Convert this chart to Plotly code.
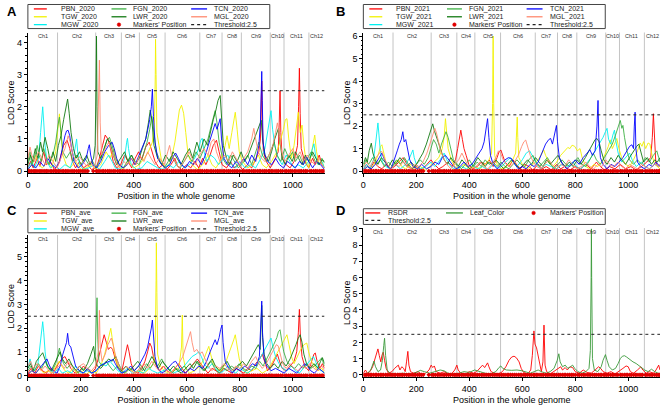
import plotly.graph_objects as go

W, H = 661, 407
X_MAX = 1120
FONT = "Liberation Sans, Arial, sans-serif"

# ---------------- data ----------------
CHR_NAMES = ["Ch1", "Ch2", "Ch3", "Ch4", "Ch5", "Ch6", "Ch7", "Ch8", "Ch9", "Ch10", "Ch11", "Ch12"]
CHR_STARTS = [0, 112, 256, 353, 421, 518, 649, 733, 806, 915, 967, 1061]
X_TICKS = [0, 200, 400, 600, 800, 1000]
THRESHOLD = 2.5

MARKERS = [2, 7, 13, 20, 26, 31, 38, 45, 50, 57, 64, 70, 76, 84, 90, 97, 104, 109,
           116, 121, 129, 135, 142, 148, 155, 163, 170, 176, 184, 191, 197, 205, 212, 219, 226,
           247, 259, 265, 272, 280, 286, 293, 301, 307, 314, 322, 329, 338, 345, 350,
           357, 363, 371, 377, 384, 392, 398, 405, 412, 418,
           425, 431, 438, 446, 452, 459, 466, 473, 479, 487, 494, 501, 508, 514,
           522, 528, 535, 543, 549, 556, 563, 570, 577, 585, 592, 598, 606, 612, 619, 627, 634, 642, 646,
           653, 659, 667, 674, 680, 688, 694, 701, 709, 716, 722, 729,
           737, 743, 751, 758, 764, 772, 779, 786, 792, 800,
           810, 816, 824, 831, 837, 845, 852, 858, 866, 873, 879, 887, 894, 900, 908, 912,
           919, 925, 933, 940, 946, 954, 961,
           971, 977, 985, 992, 998, 1006, 1012, 1020, 1027, 1033, 1041, 1048, 1054,
           1065, 1071, 1079, 1086, 1092, 1100, 1107, 1113, 1118]

# ---- Panel A (2020) ----
PBN_2020 = [(0,0.1),(10,0.3),(20,0.1),(35,0.4),(45,0.15),(60,0.6),(70,0.2),(85,0.3),(100,0.05),(115,0.2),(125,0.5),(135,0.8),(148,0.96),(158,0.7),(168,0.3),(180,0.1),(195,0.3),(210,0.1),(225,0.2),(240,0.05),(258,0.1),(270,0.4),(282,0.8),(292,1.12),(302,1.0),(312,0.7),(322,0.3),(335,0.1),(350,0.2),(365,0.5),(378,0.3),(392,0.1),(405,0.4),(418,0.6),(430,0.35),(445,0.75),(458,0.9),(468,0.6),(480,0.3),(495,0.1),(510,0.2),(525,0.05),(540,0.2),(555,0.4),(565,0.15),(580,0.05),(600,0.2),(615,0.1),(630,0.3),(645,0.1),(660,0.4),(672,0.2),(688,0.5),(700,0.8),(712,0.96),(722,0.6),(733,0.2),(750,0.1),(765,0.3),(778,0.1),(795,0.2),(810,0.05),(830,0.2),(845,0.1),(860,0.4),(872,0.6),(878,1.0),(881,2.0),(883,2.8),(885,1.5),(889,0.6),(900,0.3),(915,0.1),(930,0.3),(945,0.6),(949,1.5),(952,2.5),(955,1.2),(960,0.4),(975,0.2),(990,0.1),(1005,0.3),(1018,0.8),(1022,2.0),(1025,3.2),(1028,1.8),(1032,0.7),(1045,0.3),(1060,0.1),(1075,0.4),(1085,0.2),(1100,0.5),(1110,0.2),(1120,0.1)]
TGW_2020 = [(0,0.05),(15,0.2),(30,0.5),(40,0.2),(55,0.1),(75,0.3),(90,0.1),(105,0.6),(113,1.3),(119,1.78),(125,1.1),(132,0.5),(145,0.2),(160,0.1),(180,0.3),(200,0.05),(220,0.1),(240,0.2),(256,0.05),(275,0.2),(295,0.6),(310,0.4),(325,0.7),(340,0.2),(360,0.05),(380,0.3),(400,0.1),(420,0.2),(440,0.4),(455,0.6),(470,0.9),(478,1.5),(481,3.0),(482,4.1),(484,3.0),(487,1.2),(495,0.8),(505,0.3),(520,0.1),(540,0.3),(555,0.9),(565,1.5),(572,1.9),(580,2.05),(588,1.8),(596,1.2),(605,0.5),(620,0.2),(640,0.05),(660,0.2),(680,0.5),(695,0.2),(710,0.1),(725,0.3),(740,0.6),(752,1.1),(760,0.7),(770,1.2),(778,1.6),(783,1.83),(790,1.3),(798,0.6),(810,0.3),(830,0.1),(850,0.2),(870,0.5),(885,0.2),(900,0.1),(920,0.3),(940,0.6),(955,1.0),(965,1.3),(972,1.6),(978,1.63),(985,1.0),(995,0.4),(1005,0.8),(1015,1.5),(1021,1.83),(1028,1.2),(1035,1.43),(1042,0.8),(1050,0.3),(1060,0.1),(1070,0.5),(1078,0.9),(1083,1.12),(1090,0.6),(1100,0.2),(1110,0.3),(1120,0.1)]
MGW_2020 = [(0,0.1),(15,0.3),(25,0.1),(40,0.4),(48,1.2),(53,1.9),(56,2.0),(60,1.5),(65,0.8),(72,0.3),(85,0.1),(100,0.2),(120,0.05),(140,0.2),(160,0.1),(172,0.4),(180,0.9),(184,1.0),(188,0.6),(195,0.2),(210,0.05),(230,0.1),(250,0.2),(270,0.05),(290,0.3),(305,0.5),(318,0.3),(330,0.1),(350,0.05),(365,0.4),(373,0.9),(376,1.02),(380,0.7),(390,0.2),(410,0.05),(430,0.1),(450,0.3),(470,0.2),(490,0.1),(510,0.05),(530,0.2),(550,0.1),(570,0.3),(590,0.1),(610,0.2),(630,0.4),(645,0.7),(652,0.95),(658,1.02),(665,0.6),(675,0.3),(690,0.5),(705,0.4),(720,0.2),(740,0.4),(755,0.5),(768,0.2),(785,0.1),(800,0.3),(820,0.1),(840,0.2),(860,0.1),(880,0.4),(895,0.7),(905,1.2),(912,1.6),(918,1.88),(924,1.3),(932,0.8),(945,0.4),(960,0.2),(975,0.5),(990,0.3),(1005,0.1),(1020,0.2),(1040,0.1),(1060,0.3),(1072,0.6),(1080,0.85),(1086,0.5),(1095,0.2),(1110,0.3),(1120,0.1)]
FGN_2020 = [(0,0.3),(8,0.6),(15,0.2),(25,0.4),(35,0.8),(42,0.5),(50,0.3),(60,0.7),(70,0.4),(80,0.2),(95,0.5),(105,0.9),(113,1.4),(119,1.68),(125,1.2),(132,0.6),(145,0.4),(160,0.6),(170,0.3),(185,0.5),(200,0.2),(215,0.4),(230,0.2),(245,0.3),(256,0.1),(270,0.3),(285,0.6),(298,0.95),(308,1.05),(318,0.8),(330,0.4),(345,0.2),(360,0.1),(375,0.3),(390,0.5),(405,0.3),(420,0.2),(435,0.5),(450,0.9),(460,1.3),(468,1.7),(476,1.2),(485,0.6),(500,0.3),(515,0.1),(530,0.3),(545,0.5),(560,0.2),(575,0.1),(590,0.3),(605,0.5),(620,0.3),(635,0.6),(650,0.4),(665,0.7),(680,1.0),(692,1.4),(700,1.7),(707,1.88),(714,1.5),(722,0.9),(735,0.4),(750,0.2),(765,0.5),(780,0.3),(795,0.1),(815,0.3),(830,0.5),(845,0.2),(860,0.6),(872,0.9),(885,0.5),(900,0.3),(915,0.6),(930,0.9),(940,0.5),(955,0.3),(970,0.7),(985,0.4),(1000,0.6),(1010,0.3),(1025,0.5),(1040,0.2),(1055,0.4),(1070,0.6),(1085,0.3),(1100,0.2),(1110,0.4),(1120,0.25)]
LWR_2020 = [(0,0.2),(10,0.5),(18,0.3),(28,0.7),(38,0.4),(48,0.9),(55,0.6),(65,1.05),(75,0.7),(85,0.3),(95,0.6),(105,0.3),(115,0.8),(125,1.1),(135,1.6),(143,2.0),(150,2.24),(156,1.8),(163,1.2),(172,0.7),(182,0.4),(195,0.6),(208,0.3),(222,0.5),(235,0.2),(248,0.4),(254,0.8),(257,2.5),(259,4.2),(261,2.0),(264,0.6),(275,0.4),(290,0.8),(300,1.0),(310,0.9),(322,0.5),(335,0.2),(350,0.4),(365,0.6),(378,0.3),(392,0.5),(405,0.2),(420,0.4),(432,0.7),(445,1.0),(455,1.5),(462,1.9),(468,1.6),(476,0.8),(490,0.4),(505,0.2),(520,0.5),(535,0.3),(548,0.6),(562,0.4),(578,0.2),(595,0.5),(610,0.7),(622,0.4),(638,0.9),(650,0.6),(665,1.0),(678,0.8),(690,1.3),(700,1.6),(710,1.9),(718,2.2),(726,2.35),(731,1.6),(738,0.8),(750,0.4),(762,0.2),(775,0.5),(790,0.3),(805,0.6),(818,0.3),(832,0.5),(845,0.8),(858,1.1),(868,1.3),(876,1.5),(881,1.58),(886,1.0),(895,0.5),(908,0.3),(920,0.6),(932,1.0),(940,1.2),(946,1.33),(952,0.9),(960,0.4),(972,0.2),(985,0.5),(998,0.3),(1010,0.6),(1022,0.4),(1035,0.2),(1048,0.5),(1060,0.3),(1075,0.6),(1088,0.4),(1100,0.2),(1110,0.35),(1120,0.3)]
TCN_2020 = [(0,0.05),(15,0.2),(30,0.1),(45,0.3),(60,0.15),(75,0.4),(90,0.2),(105,0.1),(120,0.3),(132,0.8),(140,1.1),(146,1.25),(152,1.27),(158,1.1),(165,0.7),(175,0.3),(190,0.1),(205,0.2),(220,0.4),(228,0.7),(232,0.82),(237,0.5),(245,0.2),(260,0.1),(275,0.3),(290,0.6),(305,0.8),(318,0.9),(326,0.7),(335,0.4),(345,0.2),(360,0.1),(375,0.2),(390,0.4),(405,0.2),(420,0.5),(435,0.8),(445,1.0),(452,1.27),(460,1.6),(466,2.0),(470,2.55),(474,1.7),(480,0.9),(490,0.4),(505,0.2),(520,0.1),(535,0.2),(548,0.45),(558,0.56),(568,0.4),(580,0.2),(595,0.1),(610,0.3),(625,0.2),(640,0.4),(655,0.2),(670,0.5),(685,0.9),(697,1.2),(707,1.48),(714,1.3),(720,1.5),(726,1.63),(731,1.0),(740,0.4),(755,0.2),(770,0.1),(785,0.3),(800,0.2),(815,0.4),(830,0.2),(845,0.5),(860,0.3),(872,0.8),(878,1.5),(881,2.5),(883,3.1),(885,2.2),(888,0.9),(895,0.5),(905,0.3),(920,0.2),(935,0.4),(950,0.2),(965,0.1),(980,0.3),(995,0.2),(1010,0.1),(1025,0.3),(1040,0.2),(1050,0.45),(1060,0.3),(1075,0.1),(1090,0.3),(1105,0.2),(1120,0.05)]
MGL_2020 = [(0,0.4),(8,0.75),(15,0.5),(25,0.3),(40,0.6),(52,0.4),(65,0.2),(80,0.5),(95,0.3),(110,0.1),(125,0.4),(140,0.7),(152,1.1),(160,0.9),(170,0.5),(182,0.3),(195,0.45),(210,0.3),(222,0.15),(235,0.3),(250,0.1),(262,0.5),(267,2.0),(270,3.45),(273,1.5),(278,0.5),(292,0.7),(305,0.9),(318,0.6),(332,0.3),(345,0.1),(362,0.3),(375,0.2),(392,0.4),(408,0.2),(422,0.5),(438,0.3),(452,0.6),(465,0.4),(480,0.2),(498,0.4),(515,0.2),(528,0.6),(535,0.8),(542,0.5),(555,0.3),(570,0.1),(590,0.3),(608,0.6),(620,0.4),(632,0.2),(648,0.5),(665,0.7),(680,0.5),(692,0.9),(702,1.0),(712,0.6),(725,0.3),(742,0.5),(758,0.3),(772,0.6),(786,0.4),(800,0.2),(815,0.4),(830,0.6),(845,1.0),(853,1.33),(860,1.0),(870,0.6),(882,0.4),(895,0.3),(910,0.5),(925,0.8),(935,1.2),(942,1.5),(950,1.1),(958,0.6),(970,0.3),(985,0.5),(1000,0.7),(1012,0.4),(1028,0.6),(1040,0.3),(1055,0.5),(1070,0.3),(1085,0.2),(1100,0.4),(1110,0.2),(1120,0.1)]

# ---- Panel B (2021) ----
PBN_2021 = [(0,0.1),(12,0.3),(25,0.1),(40,0.4),(55,0.2),(70,0.1),(85,0.3),(100,0.1),(118,0.2),(135,0.4),(150,0.6),(165,0.3),(180,0.1),(200,0.2),(220,0.05),(240,0.3),(255,0.5),(268,0.3),(285,0.1),(300,0.2),(320,0.4),(335,0.2),(348,0.5),(356,1.0),(362,1.5),(368,1.82),(374,1.4),(380,1.0),(388,0.7),(398,0.3),(412,0.1),(430,0.2),(445,0.4),(460,0.3),(475,0.5),(490,0.2),(505,0.6),(512,0.85),(519,0.94),(526,0.7),(535,0.4),(550,0.2),(565,0.5),(578,0.3),(592,0.1),(610,0.3),(625,0.2),(640,0.05),(660,0.3),(675,0.1),(690,0.2),(710,0.05),(730,0.3),(745,0.1),(760,0.2),(780,0.05),(800,0.2),(820,0.1),(840,0.3),(860,0.1),(880,0.4),(895,0.2),(910,0.05),(930,0.2),(950,0.1),(970,0.3),(990,0.1),(1010,0.2),(1030,0.05),(1050,0.2),(1070,0.4),(1085,0.6),(1091,1.5),(1095,2.55),(1099,1.2),(1104,0.4),(1112,0.2),(1120,0.3)]
TGW_2021 = [(0,0.05),(15,0.2),(30,0.1),(45,0.4),(58,0.8),(65,1.1),(70,1.17),(76,0.8),(85,0.4),(100,0.1),(118,0.3),(132,0.5),(145,0.2),(160,0.1),(180,0.3),(195,0.1),(215,0.2),(235,0.05),(250,0.2),(268,0.4),(285,0.6),(298,1.0),(305,1.5),(310,2.33),(314,1.6),(320,1.0),(332,0.5),(345,0.2),(360,0.1),(380,0.3),(400,0.1),(420,0.2),(440,0.1),(460,0.3),(475,0.5),(484,0.8),(488,3.0),(490,6.0),(492,3.0),(496,0.7),(505,0.3),(520,0.1),(540,0.2),(560,0.4),(575,0.8),(579,1.8),(581,2.4),(583,1.5),(587,0.6),(600,0.3),(620,0.1),(640,0.3),(660,0.5),(675,0.8),(681,0.94),(688,0.7),(700,0.4),(715,0.2),(730,0.4),(745,0.7),(760,0.9),(772,1.05),(780,1.0),(788,1.15),(798,1.1),(808,0.9),(818,1.0),(826,0.6),(840,0.2),(855,0.1),(870,0.3),(885,0.2),(900,0.4),(915,0.8),(925,1.1),(932,1.39),(940,1.0),(948,1.2),(957,1.45),(965,1.0),(975,0.6),(990,0.3),(1005,0.2),(1020,0.5),(1035,0.9),(1045,1.25),(1052,1.1),(1058,1.31),(1066,1.0),(1075,1.25),(1082,1.2),(1090,0.7),(1100,0.3),(1110,0.2),(1120,0.1)]
MGW_2021 = [(0,0.1),(12,0.3),(25,0.1),(38,0.5),(46,1.2),(51,1.9),(55,2.14),(59,1.6),(64,0.9),(72,0.4),(85,0.2),(100,0.1),(120,0.3),(140,0.1),(160,0.3),(175,0.6),(182,0.85),(187,0.94),(192,0.6),(200,0.3),(215,0.1),(235,0.2),(255,0.4),(270,0.2),(290,0.5),(305,0.8),(315,0.5),(330,0.2),(350,0.05),(370,0.2),(390,0.1),(410,0.3),(430,0.1),(450,0.2),(470,0.05),(490,0.3),(510,0.1),(530,0.3),(545,0.5),(555,0.6),(565,0.4),(580,0.2),(600,0.5),(615,0.8),(628,0.9),(640,0.6),(655,0.3),(670,0.1),(690,0.3),(710,0.2),(730,0.1),(750,0.3),(770,0.2),(790,0.4),(805,0.2),(820,0.1),(840,0.3),(860,0.6),(875,0.9),(890,1.2),(905,1.5),(914,1.75),(920,1.9),(926,1.4),(934,1.2),(942,1.6),(948,1.82),(954,1.3),(962,0.8),(975,0.4),(990,0.6),(1005,0.8),(1015,0.5),(1030,0.2),(1050,0.4),(1065,0.2),(1080,0.1),(1100,0.3),(1120,0.2)]
FGN_2021 = [(0,0.2),(10,0.5),(20,0.3),(35,0.6),(50,0.3),(65,0.5),(80,0.2),(95,0.4),(110,0.2),(125,0.5),(140,0.3),(155,0.6),(170,0.3),(185,0.1),(200,0.3),(215,0.5),(230,0.3),(245,0.6),(255,1.0),(265,1.4),(275,1.2),(285,0.8),(295,1.2),(303,1.5),(312,1.75),(320,1.5),(330,1.0),(340,0.5),(355,0.3),(370,0.1),(385,0.3),(400,0.5),(415,0.2),(430,0.4),(445,0.2),(460,0.5),(475,0.3),(490,0.4),(505,0.2),(520,0.4),(535,0.2),(550,0.1),(565,0.3),(580,0.5),(595,0.3),(610,0.2),(625,0.5),(640,0.7),(652,0.4),(665,0.2),(680,0.4),(695,0.6),(708,0.3),(720,0.1),(735,0.3),(750,0.5),(765,0.3),(780,0.2),(795,0.4),(810,0.6),(825,0.3),(840,0.2),(855,0.5),(868,0.8),(880,0.5),(895,0.3),(910,0.6),(925,0.9),(940,1.2),(952,1.6),(962,2.0),(970,2.25),(976,1.9),(980,2.03),(986,1.5),(995,0.9),(1005,0.5),(1020,0.3),(1035,0.5),(1050,0.3),(1065,0.6),(1080,0.4),(1095,0.7),(1108,0.9),(1115,0.6),(1120,0.4)]
LWR_2021 = [(0,0.3),(8,0.6),(15,0.4),(22,0.9),(30,1.24),(36,0.8),(45,0.5),(55,0.3),(68,0.6),(80,0.4),(95,0.2),(110,0.5),(122,0.3),(138,0.6),(150,0.4),(165,0.2),(180,0.4),(195,0.2),(210,0.5),(225,0.8),(238,1.2),(248,1.6),(256,1.9),(262,2.1),(268,1.8),(276,1.5),(285,1.2),(295,0.8),(305,0.5),(318,0.3),(330,0.6),(342,0.4),(358,0.2),(372,0.5),(388,0.3),(402,0.1),(418,0.3),(432,0.6),(446,0.4),(460,0.2),(472,0.4),(485,0.3),(500,0.5),(515,0.3),(530,0.1),(545,0.3),(560,0.5),(575,0.3),(590,0.1),(605,0.3),(620,0.5),(635,0.3),(650,0.6),(663,0.4),(678,0.2),(692,0.5),(706,0.3),(720,0.5),(735,0.7),(748,0.4),(762,0.2),(778,0.4),(792,0.2),(808,0.5),(822,0.3),(838,0.6),(852,0.9),(865,1.2),(875,1.4),(882,1.45),(890,1.3),(898,0.9),(908,0.5),(920,0.3),(935,0.6),(948,0.4),(962,0.7),(975,0.5),(990,0.3),(1005,0.6),(1020,0.9),(1032,1.1),(1040,1.2),(1048,0.8),(1058,0.4),(1072,0.6),(1088,0.3),(1100,0.5),(1110,0.4),(1120,0.6)]
TCN_2021 = [(0,0.05),(15,0.2),(30,0.1),(45,0.3),(60,0.6),(70,0.8),(80,0.5),(92,0.2),(105,0.1),(118,0.5),(128,0.9),(136,1.2),(143,1.4),(149,1.75),(154,1.3),(160,1.4),(167,1.0),(175,0.5),(188,0.2),(205,0.1),(220,0.3),(238,0.1),(255,0.2),(270,0.4),(285,0.3),(298,0.6),(310,0.7),(322,0.5),(335,0.3),(350,0.1),(365,0.2),(380,0.4),(395,0.2),(410,0.3),(425,0.6),(438,0.8),(448,1.0),(456,1.3),(462,1.8),(469,2.33),(474,1.5),(480,0.7),(490,0.3),(505,0.1),(520,0.3),(535,0.5),(548,0.6),(560,0.55),(572,0.3),(585,0.1),(600,0.2),(615,0.1),(630,0.3),(645,0.2),(660,0.4),(675,0.8),(688,1.2),(700,1.4),(707,1.45),(714,1.2),(720,1.5),(726,1.9),(729,2.03),(733,1.3),(740,0.6),(752,0.3),(768,0.1),(785,0.3),(800,0.5),(815,0.3),(830,0.6),(845,0.8),(855,0.95),(865,0.7),(875,0.9),(882,2.0),(886,3.14),(889,1.5),(895,0.6),(905,0.3),(920,0.1),(935,0.3),(950,0.2),(965,0.4),(980,0.6),(995,0.9),(1005,1.1),(1014,1.17),(1020,1.0),(1023,2.0),(1026,2.62),(1029,1.0),(1035,0.4),(1048,0.2),(1062,0.1),(1078,0.3),(1092,0.2),(1105,0.4),(1120,0.2)]
MGL_2021 = [(0,0.2),(12,0.4),(25,0.2),(40,0.5),(55,0.7),(64,0.85),(70,0.87),(78,0.6),(90,0.3),(105,0.1),(120,0.3),(135,0.2),(150,0.4),(165,0.2),(180,0.1),(195,0.3),(210,0.2),(225,0.4),(240,0.8),(252,1.2),(262,1.6),(270,1.9),(276,1.7),(284,1.3),(292,0.9),(302,0.6),(315,0.3),(330,0.1),(345,0.3),(360,0.5),(372,0.8),(380,0.6),(392,0.3),(408,0.1),(425,0.2),(440,0.4),(455,0.2),(470,0.1),(485,0.3),(500,0.6),(510,0.9),(518,0.8),(528,0.5),(540,0.3),(555,0.2),(570,0.4),(585,0.7),(598,1.1),(606,1.3),(613,1.38),(620,1.1),(630,0.7),(642,0.4),(655,0.2),(670,0.1),(685,0.3),(700,0.5),(712,0.3),(728,0.1),(745,0.3),(760,0.2),(775,0.5),(790,0.3),(805,0.1),(822,0.2),(840,0.4),(855,0.2),(870,0.1),(885,0.3),(900,0.2),(915,0.5),(930,0.3),(945,0.2),(960,0.4),(975,0.2),(990,0.1),(1005,0.3),(1020,0.2),(1035,0.1),(1050,0.3),(1065,0.2),(1080,0.1),(1100,0.3),(1120,0.2)]

# ---- Panel C (average) ----
PBN_ave = [(0,0.1),(12,0.3),(25,0.1),(40,0.4),(55,0.2),(70,0.1),(85,0.3),(100,0.2),(115,0.5),(128,0.7),(140,0.8),(150,0.6),(162,0.3),(178,0.1),(195,0.2),(210,0.4),(225,0.2),(240,0.1),(255,0.3),(268,0.8),(278,1.3),(288,1.72),(296,1.4),(304,1.1),(312,1.2),(320,1.1),(330,0.7),(342,0.3),(355,0.2),(365,0.8),(372,1.2),(376,1.3),(382,1.0),(390,0.5),(400,0.2),(415,0.1),(430,0.3),(442,0.6),(452,1.0),(460,1.37),(467,1.2),(474,0.8),(485,0.4),(498,0.2),(512,0.4),(525,0.2),(540,0.1),(555,0.3),(570,0.5),(582,0.3),(595,0.1),(610,0.3),(625,0.5),(640,0.7),(652,0.5),(665,0.3),(680,0.1),(695,0.3),(710,0.2),(725,0.1),(740,0.3),(755,0.2),(770,0.1),(785,0.3),(800,0.2),(815,0.1),(830,0.3),(845,0.2),(860,0.5),(875,0.7),(885,0.9),(895,0.5),(905,0.2),(920,0.4),(932,0.7),(942,0.9),(950,0.6),(960,0.3),(975,0.2),(990,0.4),(1005,0.6),(1015,1.0),(1021,1.8),(1025,2.79),(1029,1.6),(1035,0.8),(1045,0.4),(1060,0.2),(1072,0.6),(1080,0.9),(1085,0.95),(1092,0.6),(1102,0.3),(1112,0.5),(1120,0.3)]
TGW_ave = [(0,0.05),(15,0.2),(30,0.1),(45,0.3),(60,0.1),(75,0.2),(90,0.1),(105,0.4),(118,0.6),(128,0.4),(140,0.2),(155,0.1),(170,0.3),(185,0.1),(200,0.2),(220,0.05),(240,0.2),(258,0.1),(275,0.4),(290,0.9),(300,1.4),(308,1.8),(313,1.99),(318,1.6),(326,1.0),(336,0.5),(350,0.2),(365,0.1),(385,0.3),(400,0.1),(420,0.2),(440,0.1),(460,0.3),(475,0.5),(481,1.5),(484,4.0),(485,5.6),(487,3.5),(490,0.9),(500,0.4),(515,0.2),(530,0.1),(550,0.2),(570,0.3),(580,1.2),(583,2.55),(586,0.8),(595,0.3),(610,0.1),(630,0.2),(650,0.4),(665,0.7),(675,1.0),(683,1.23),(690,0.9),(700,0.5),(715,0.3),(730,0.2),(745,0.5),(755,0.8),(762,1.0),(770,1.2),(777,1.5),(783,1.72),(790,1.3),(798,0.7),(810,0.3),(825,0.1),(845,0.2),(865,0.3),(885,0.1),(900,0.2),(915,0.4),(930,0.7),(945,1.0),(958,1.3),(970,1.55),(978,1.72),(986,1.3),(995,0.8),(1005,0.5),(1018,0.8),(1030,1.1),(1042,1.3),(1053,1.37),(1060,1.0),(1070,0.6),(1082,0.4),(1095,0.2),(1110,0.3),(1120,0.1)]
MGW_ave = [(0,0.3),(8,0.7),(15,0.4),(25,0.2),(38,0.5),(46,1.3),(52,2.0),(56,2.27),(60,1.8),(65,1.0),(72,0.4),(85,0.2),(100,0.1),(115,0.3),(130,0.1),(150,0.2),(165,0.1),(180,0.4),(190,0.2),(205,0.1),(225,0.2),(245,0.1),(265,0.3),(280,0.5),(295,0.4),(310,0.6),(325,0.4),(340,0.2),(355,0.1),(375,0.3),(395,0.1),(415,0.2),(435,0.1),(455,0.3),(470,0.2),(490,0.1),(510,0.2),(530,0.3),(550,0.1),(570,0.2),(590,0.4),(605,0.6),(620,0.8),(635,0.9),(645,1.0),(655,0.8),(665,0.5),(680,0.3),(695,0.5),(710,0.3),(725,0.1),(740,0.2),(755,0.4),(770,0.2),(785,0.1),(800,0.3),(815,0.2),(830,0.1),(850,0.3),(865,0.5),(880,0.8),(895,1.1),(905,1.3),(912,1.5),(918,1.58),(925,1.2),(935,0.8),(948,0.5),(962,0.3),(978,0.2),(995,0.4),(1010,0.2),(1025,0.1),(1040,0.3),(1055,0.5),(1068,0.7),(1078,0.8),(1086,0.6),(1095,0.3),(1108,0.2),(1120,0.1)]
FGN_ave = [(0,0.2),(12,0.4),(25,0.2),(40,0.5),(52,0.3),(65,0.6),(78,0.3),(92,0.2),(105,0.5),(113,0.9),(119,1.16),(125,0.8),(135,0.5),(148,0.3),(162,0.5),(175,0.3),(190,0.1),(205,0.3),(220,0.2),(235,0.4),(248,0.6),(254,0.9),(258,2.0),(261,3.28),(264,1.5),(268,0.6),(280,0.4),(295,0.6),(308,0.4),(322,0.2),(338,0.4),(352,0.2),(368,0.1),(385,0.3),(400,0.2),(418,0.4),(432,0.2),(448,0.5),(462,0.3),(478,0.6),(490,0.4),(505,0.7),(515,0.5),(530,0.3),(545,0.1),(560,0.3),(575,0.2),(590,0.4),(605,0.2),(620,0.4),(635,0.6),(648,0.4),(662,0.2),(678,0.4),(692,0.6),(705,0.3),(720,0.1),(738,0.3),(752,0.2),(768,0.4),(782,0.3),(798,0.5),(812,0.3),(828,0.2),(845,0.4),(860,0.3),(875,0.6),(888,0.4),(900,0.7),(915,1.0),(928,1.3),(940,1.6),(946,1.85),(952,1.93),(958,1.5),(966,1.0),(978,0.6),(992,0.4),(1008,0.3),(1022,0.5),(1038,0.3),(1052,0.5),(1068,0.3),(1082,0.4),(1098,0.6),(1110,0.75),(1116,0.5),(1120,0.4)]
LWR_ave = [(0,0.3),(10,0.5),(20,0.2),(32,0.6),(45,0.8),(56,0.96),(64,0.7),(75,0.4),(88,0.2),(100,0.5),(112,0.8),(122,1.0),(130,0.7),(142,0.5),(155,0.7),(168,0.4),(182,0.2),(195,0.4),(210,0.2),(225,0.5),(238,0.9),(248,1.23),(253,0.8),(262,0.4),(275,0.3),(290,0.5),(305,0.7),(318,0.6),(332,0.8),(342,0.5),(355,0.2),(370,0.4),(385,0.2),(400,0.4),(415,0.6),(428,0.4),(440,0.2),(455,0.5),(468,0.8),(478,0.6),(492,0.3),(508,0.6),(520,0.4),(535,0.2),(550,0.4),(565,0.2),(580,0.1),(598,0.3),(612,0.5),(625,0.3),(640,0.6),(652,0.4),(668,0.2),(682,0.5),(696,0.7),(708,0.4),(722,0.2),(738,0.4),(752,0.6),(766,0.3),(780,0.2),(795,0.4),(810,0.6),(825,0.4),(840,0.7),(852,1.0),(862,1.2),(870,1.3),(877,1.1),(880,2.0),(883,2.96),(886,1.6),(892,0.9),(902,0.5),(915,0.3),(930,0.5),(945,0.3),(960,0.6),(975,0.4),(990,0.7),(1002,1.0),(1012,1.3),(1020,1.55),(1028,1.72),(1035,1.4),(1042,0.9),(1052,0.5),(1065,0.3),(1080,0.5),(1095,0.3),(1105,0.6),(1112,0.75),(1120,0.5)]
TCN_ave = [(0,0.05),(15,0.2),(30,0.1),(45,0.3),(60,0.5),(72,0.7),(82,0.4),(95,0.2),(110,0.1),(122,0.4),(132,0.9),(140,1.2),(146,1.4),(150,1.78),(155,1.3),(162,1.2),(170,0.8),(180,0.4),(195,0.2),(210,0.1),(225,0.3),(240,0.1),(258,0.2),(272,0.4),(288,0.5),(305,0.6),(315,0.65),(322,0.68),(330,0.5),(340,0.3),(355,0.1),(372,0.2),(388,0.4),(402,0.2),(418,0.4),(432,0.7),(442,0.9),(452,1.2),(460,1.6),(466,2.0),(470,2.34),(474,1.6),(480,0.8),(490,0.3),(505,0.1),(520,0.2),(535,0.4),(548,0.55),(558,0.6),(568,0.4),(580,0.2),(595,0.1),(612,0.3),(628,0.2),(645,0.4),(660,0.3),(675,0.6),(688,1.0),(698,1.3),(707,1.51),(714,1.3),(722,1.6),(728,1.95),(733,2.13),(737,1.4),(745,0.6),(758,0.3),(772,0.1),(788,0.3),(802,0.2),(818,0.4),(832,0.3),(848,0.5),(862,0.4),(874,0.8),(880,2.0),(883,3.14),(886,1.8),(892,0.7),(902,0.4),(918,0.2),(935,0.3),(950,0.2),(968,0.1),(985,0.3),(1000,0.2),(1015,0.1),(1030,0.3),(1045,0.5),(1055,0.4),(1068,0.2),(1082,0.1),(1098,0.3),(1110,0.2),(1120,0.1)]
MGL_ave = [(0,0.4),(10,0.6),(20,0.3),(35,0.5),(50,0.2),(65,0.4),(80,0.2),(95,0.1),(110,0.3),(125,0.5),(138,0.3),(152,0.6),(165,0.4),(180,0.2),(195,0.4),(210,0.5),(225,0.3),(240,0.2),(255,0.4),(266,1.0),(270,2.75),(273,1.2),(280,0.6),(292,0.9),(302,1.3),(310,1.5),(315,1.58),(322,1.3),(332,0.8),(345,0.4),(358,0.2),(372,0.4),(388,0.2),(405,0.1),(422,0.3),(438,0.5),(452,0.3),(468,0.6),(480,0.4),(495,0.2),(510,0.4),(525,0.2),(540,0.1),(555,0.3),(570,0.5),(585,0.8),(598,1.3),(606,1.6),(614,1.85),(620,1.4),(628,1.0),(638,1.1),(648,0.9),(658,1.0),(668,0.7),(680,0.4),(695,0.2),(710,0.4),(725,0.3),(740,0.5),(755,0.3),(770,0.2),(785,0.4),(800,0.3),(815,0.5),(830,0.3),(845,0.6),(860,0.8),(872,0.5),(885,0.3),(900,0.5),(915,0.8),(928,1.1),(938,1.3),(945,1.25),(952,0.9),(962,0.5),(975,0.3),(990,0.5),(1005,0.3),(1020,0.2),(1035,0.4),(1050,0.3),(1065,0.5),(1080,0.3),(1095,0.2),(1110,0.4),(1120,0.2)]

# ---- Panel D ----
RSDR = [(0,0.1),(8,0.3),(15,0.1),(25,0.2),(35,0.5),(42,0.9),(48,1.3),(55,1.6),(60,1.2),(66,0.8),(70,1.2),(75,1.4),(80,0.9),(86,0.4),(95,0.1),(108,0.2),(118,0.4),(126,0.55),(132,0.6),(138,0.3),(145,0.5),(152,0.4),(158,0.2),(163,0.8),(168,1.45),(172,0.6),(178,0.2),(190,0.1),(205,0.2),(220,0.05),(235,0.1),(248,0.3),(256,0.6),(262,0.45),(268,0.55),(275,0.2),(290,0.1),(305,0.2),(320,0.05),(335,0.1),(345,0.3),(353,0.6),(358,0.3),(368,0.1),(385,0.05),(400,0.2),(415,0.1),(428,0.2),(440,0.4),(450,0.6),(458,0.45),(465,0.65),(469,0.74),(474,0.5),(482,0.2),(495,0.1),(510,0.05),(525,0.2),(538,0.5),(550,0.9),(560,1.1),(569,1.15),(578,1.05),(588,0.8),(596,0.4),(605,0.15),(620,0.05),(632,0.3),(638,1.2),(644,2.71),(648,1.9),(654,1.66),(660,1.1),(666,0.5),(672,0.2),(678,0.8),(682,3.07),(686,0.6),(692,0.2),(705,0.05),(720,0.2),(735,0.4),(745,0.5),(752,0.3),(762,0.45),(770,0.3),(780,0.5),(790,0.45),(800,0.2),(815,0.1),(830,0.3),(845,0.15),(860,0.1),(875,0.3),(888,0.5),(896,0.4),(905,0.2),(920,0.1),(935,0.2),(950,0.05),(965,0.2),(980,0.4),(992,0.55),(1000,0.5),(1008,0.2),(1020,0.1),(1035,0.3),(1048,0.5),(1055,0.3),(1068,0.1),(1080,0.2),(1095,0.1),(1105,0.3),(1115,0.6),(1120,0.3)]
Leaf_Color = [(0,0.05),(15,0.1),(28,0.3),(35,0.7),(40,0.85),(46,0.5),(55,0.2),(65,0.3),(72,0.9),(77,1.8),(80,2.26),(84,1.2),(90,0.3),(100,0.1),(120,0.05),(150,0.1),(180,0.05),(200,0.15),(215,0.28),(230,0.2),(250,0.1),(270,0.2),(290,0.3),(305,0.25),(320,0.1),(340,0.05),(360,0.1),(380,0.2),(400,0.15),(420,0.3),(440,0.2),(460,0.1),(480,0.05),(500,0.2),(512,0.45),(519,0.55),(526,0.4),(540,0.3),(560,0.28),(580,0.3),(600,0.25),(615,0.15),(630,0.1),(645,0.2),(660,0.3),(672,0.2),(690,0.1),(705,0.2),(720,0.4),(732,0.9),(738,1.3),(743,0.8),(752,0.5),(762,0.6),(772,0.4),(782,0.5),(790,0.6),(798,0.4),(810,0.2),(825,0.1),(840,0.2),(852,0.4),(857,1.5),(860,6.0),(861,9.0),(862,6.0),(865,1.0),(872,0.3),(885,0.2),(898,0.5),(905,0.9),(914,1.25),(920,0.9),(928,0.5),(940,0.3),(952,0.4),(962,0.7),(970,1.0),(978,1.15),(986,1.18),(994,1.1),(1005,0.95),(1018,0.8),(1030,0.7),(1042,0.55),(1052,0.45),(1062,0.3),(1075,0.2),(1088,0.35),(1100,0.2),(1110,0.1),(1120,0.05)]

# ---------------- styling ----------------
C_PBN, C_TGW, C_MGW = "#ff0000", "#f2f200", "#00f0f0"
C_FGN, C_LWR, C_TCN, C_MGL = "#3cb043", "#137a13", "#0000ff", "#ff8a70"
C_MARK = "#e00000"


def px_x(px):
    return px / W


def px_y(py):
    return 1 - py / H


PANELS = [
    dict(letter="A", ax="", dom_x=(25, 323), dom_y=(29, 172), yr=(-0.06, 4.31), ydt=1, ymin=0.2,
         series=[("PBN_2020", PBN_2020, C_PBN), ("TGW_2020", TGW_2020, C_TGW), ("MGW_2020", MGW_2020, C_MGW),
                 ("FGN_2020", FGN_2020, C_FGN), ("LWR_2020", LWR_2020, C_LWR), ("TCN_2020", TCN_2020, C_TCN),
                 ("MGL_2020", MGL_2020, C_MGL)]),
    dict(letter="B", ax="2", dom_x=(362, 660), dom_y=(29, 172), yr=(-0.087, 6.16), ydt=1, ymin=0.2,
         series=[("PBN_2021", PBN_2021, C_PBN), ("TGW_2021", TGW_2021, C_TGW), ("MGW_2021", MGW_2021, C_MGW),
                 ("FGN_2021", FGN_2021, C_FGN), ("LWR_2021", LWR_2021, C_LWR), ("TCN_2021", TCN_2021, C_TCN),
                 ("MGL_2021", MGL_2021, C_MGL)]),
    dict(letter="C", ax="3", dom_x=(25, 323), dom_y=(235, 380), yr=(-0.083, 5.93), ydt=1, ymin=0.2,
         series=[("PBN_ave", PBN_ave, C_PBN), ("TGW_ave", TGW_ave, C_TGW), ("MGW_ave", MGW_ave, C_MGW),
                 ("FGN_ave", FGN_ave, C_FGN), ("LWR_ave", LWR_ave, C_LWR), ("TCN_ave", TCN_ave, C_TCN),
                 ("MGL_ave", MGL_ave, C_MGL)]),
    dict(letter="D", ax="4", dom_x=(362, 660), dom_y=(228, 380), yr=(-0.16, 9.05), ydt=1, ymin=0.5,
         series=[("RSDR", RSDR, C_PBN), ("Leaf_Color", Leaf_Color, "#3a9a3a")]),
]

fig = go.Figure()
shapes, annotations = [], []

for p in PANELS:
    xa, ya = "x" + p["ax"], "y" + p["ax"]
    for name, pts, col in p["series"]:
        fig.add_trace(go.Scatter(x=[a for a, b in pts], y=[b for a, b in pts], mode="lines",
                                 name=name, line=dict(color=col, width=0.9), xaxis=xa, yaxis=ya,
                                 showlegend=False))
    fig.add_trace(go.Scatter(x=MARKERS, y=[0] * len(MARKERS), mode="markers", name="Markers' Position",
                             marker=dict(symbol="diamond", size=3.6, color=C_MARK), xaxis=xa, yaxis=ya,
                             showlegend=False))
    fig.add_trace(go.Scatter(x=[0, X_MAX], y=[THRESHOLD, THRESHOLD], mode="lines", name="Threshold:2.5",
                             line=dict(color="#222222", width=1, dash="dot"), xaxis=xa, yaxis=ya,
                             showlegend=False))

    # chromosome separators and labels
    bounds = CHR_STARTS + [X_MAX]
    for i, nm in enumerate(CHR_NAMES):
        if i > 0:
            shapes.append(dict(type="line", xref=xa, yref=ya + " domain", x0=bounds[i], x1=bounds[i],
                               y0=0, y1=1, line=dict(color="#c4c4c4", width=1), layer="below"))
        annotations.append(dict(x=(bounds[i] + bounds[i + 1]) / 2, y=0.975, xref=xa, yref=ya + " domain",
                                text=nm, showarrow=False, xanchor="center", yanchor="middle",
                                font=dict(size=5.5, color="#333333", family=FONT)))

    axis_common = dict(showline=True, linecolor="black", linewidth=1, ticks="outside", ticklen=3,
                       tickcolor="black", tickfont=dict(size=9, color="black", family=FONT),
                       showgrid=False, zeroline=False, mirror=False)
    fig.layout["xaxis" + p["ax"]] = dict(domain=[px_x(p["dom_x"][0]), px_x(p["dom_x"][1])],
                                         range=[0, X_MAX], tickvals=X_TICKS, anchor=ya,
                                         title=dict(text="Position in the whole genome", standoff=3,
                                                    font=dict(size=9, color="black", family=FONT)),
                                         **axis_common)
    fig.layout["yaxis" + p["ax"]] = dict(domain=[px_y(p["dom_y"][1]), px_y(p["dom_y"][0])],
                                         range=list(p["yr"]), dtick=p["ydt"], anchor=xa,
                                         minor=dict(dtick=p["ymin"], ticks="outside", ticklen=1.5,
                                                    tickcolor="black", showgrid=False),
                                         title=dict(text="LOD Score", standoff=0,
                                                    font=dict(size=9, color="black", family=FONT)),
                                         **axis_common)

    # panel letter
    lx = 2 if p["letter"] in "AC" else 333
    ly = 8 if p["letter"] in "AB" else 210
    annotations.append(dict(x=px_x(lx), y=px_y(ly), xref="paper", yref="paper", text="<b>%s</b>" % p["letter"],
                            showarrow=False, xanchor="left", yanchor="middle",
                            font=dict(size=13, color="black", family=FONT)))


# ---------------- manual legends ----------------
def legend_box(x0, y0, x1, y1):
    shapes.append(dict(type="rect", xref="paper", yref="paper", x0=px_x(x0), x1=px_x(x1),
                       y0=px_y(y1), y1=px_y(y0), line=dict(color="#444444", width=1),
                       fillcolor="white", layer="above"))


def legend_line(x0, x1, y, color, dash="solid"):
    shapes.append(dict(type="line", xref="paper", yref="paper", x0=px_x(x0), x1=px_x(x1),
                       y0=px_y(y), y1=px_y(y), line=dict(color=color, width=1.3, dash=dash), layer="above"))


def legend_dot(x, y):
    r = 1.8
    shapes.append(dict(type="circle", xref="paper", yref="paper", x0=px_x(x - r), x1=px_x(x + r),
                       y0=px_y(y + r), y1=px_y(y - r), line=dict(color=C_MARK, width=0.5),
                       fillcolor=C_MARK, layer="above"))


def legend_text(x, y, text):
    annotations.append(dict(x=px_x(x), y=px_y(y), xref="paper", yref="paper", text=text, showarrow=False,
                            xanchor="left", yanchor="middle", font=dict(size=7, color="#222222", family=FONT)))


for p in PANELS[:3]:
    bx = p["dom_x"][0]
    by = 0.5 if p["letter"] in "AB" else 208.3
    legend_box(bx, by, bx + 243, by + 24.5)
    rows = [by + 4.5, by + 12.5, by + 20.5]
    cols = [(bx + 6, bx + 19, bx + 31), (bx + 84, bx + 99, bx + 104), (bx + 164, bx + 180, bx + 185)]
    items = [p["series"][0], p["series"][3], p["series"][5],
             p["series"][1], p["series"][4], p["series"][6],
             p["series"][2], "markers", "threshold"]
    for k, it in enumerate(items):
        r, c = divmod(k, 3)
        lx0, lx1, tx = cols[c]
        yy = rows[r]
        if it == "markers":
            legend_dot((lx0 + lx1) / 2, yy)
            legend_text(tx, yy, "Markers' Position")
        elif it == "threshold":
            legend_line(lx0, lx1, yy, "#222222", "dot")
            legend_text(tx, yy, "Threshold:2.5")
        else:
            legend_line(lx0, lx1, yy, it[2])
            legend_text(tx, yy, it[0])

pD = PANELS[3]
bx, by = pD["dom_x"][0], 208.3
legend_box(bx, by, bx + 243, by + 16)
legend_line(bx + 2, bx + 17, by + 4.3, C_PBN)
legend_text(bx + 23, by + 4.3, pD["series"][0][0])
legend_line(bx + 83, bx + 100, by + 4.3, pD["series"][1][2])
legend_text(bx + 105, by + 4.3, pD["series"][1][0])
legend_dot(bx + 171, by + 4.3)
legend_text(bx + 185, by + 4.3, "Markers' Position")
legend_line(bx + 2, bx + 17, by + 11.8, "#222222", "dot")
legend_text(bx + 23, by + 11.8, "Threshold:2.5")

fig.update_layout(width=W, height=H, margin=dict(l=0, r=0, t=0, b=0), paper_bgcolor="white",
                  plot_bgcolor="white", showlegend=False, shapes=shapes, annotations=annotations,
                  font=dict(family=FONT, color="black"))

fig.write_html("out.html")
